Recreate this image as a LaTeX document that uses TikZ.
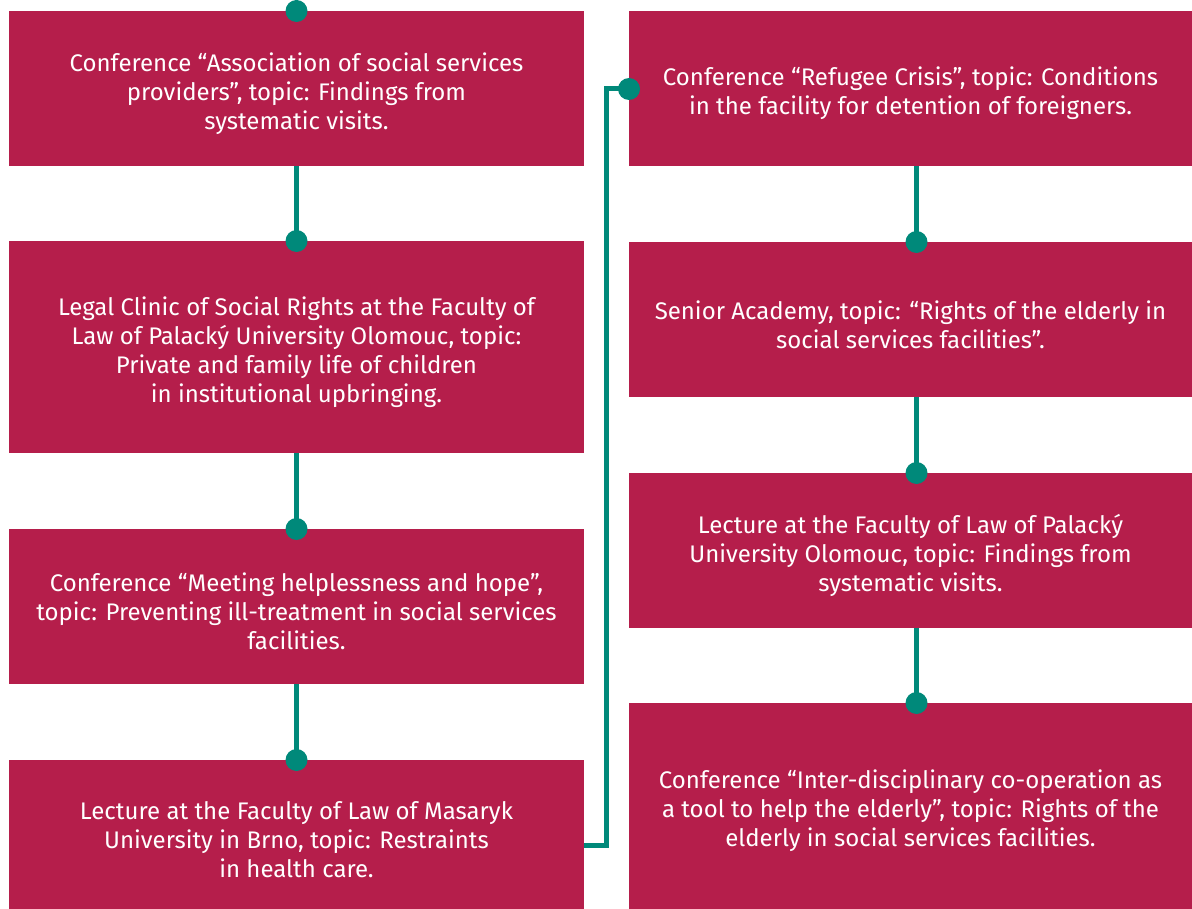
\documentclass[tikz,border=0pt]{standalone}
\usepackage{fontspec}
\setmainfont{Fira Sans}
\usetikzlibrary{calc}
\definecolor{crim}{HTML}{B51E4B}
\definecolor{teal}{HTML}{00897A}
\newcommand\topgap{\rule{0pt}{29pt}}
\begin{document}
\begin{tikzpicture}[x=1pt,y=-1pt,
  box/.style={fill=crim,text=white,inner sep=0pt,align=center,
    font=\fontsize{24}{29}\selectfont},
  lbox/.style={box,minimum width=575pt},
  rbox/.style={box,minimum width=563pt},
  conn/.style={draw=teal,line width=5pt},
  dot/.style={circle,fill=teal,inner sep=0pt,minimum size=22pt}]
\useasboundingbox (0,0) rectangle (1192,909);
% left column
\node[lbox,minimum height=155pt] (L1) at (296.5,88.5) {\topgap Conference “Association of social services\\providers”, topic: Findings from\\systematic visits.};
\node[lbox,minimum height=212pt] (L2) at (296.5,347) {\topgap Legal Clinic of Social Rights at the Faculty of\\Law of Palacký University Olomouc, topic:\\Private and family life of children\\in institutional upbringing.};
\node[lbox,minimum height=155pt] (L3) at (296.5,606.5) {\topgap Conference “Meeting helplessness and hope”,\\topic: Preventing ill-treatment in social services\\facilities.};
\node[lbox,minimum height=149pt] (L4) at (296.5,834.5) {\topgap Lecture at the Faculty of Law of Masaryk\\University in Brno, topic: Restraints\\in health care.};
% right column
\node[rbox,minimum height=155pt] (R1) at (910.5,88.5) {\topgap Conference “Refugee Crisis”, topic: Conditions\\in the facility for detention of foreigners.};
\node[rbox,minimum height=155pt] (R2) at (910.5,319.5) {\topgap Senior Academy, topic: “Rights of the elderly in\\social services facilities”.};
\node[rbox,minimum height=155pt] (R3) at (910.5,550.5) {\topgap Lecture at the Faculty of Law of Palacký\\University Olomouc, topic: Findings from\\systematic visits.};
\node[rbox,minimum height=206pt] (R4) at (910.5,806) {\topgap Conference “Inter-disciplinary co-operation as\\a tool to help the elderly”, topic: Rights of the\\elderly in social services facilities.};
% dots
\node[dot] (d1) at (296.5,11) {};
\node[dot] (d2) at (296.5,241) {};
\node[dot] (d3) at (296.5,529) {};
\node[dot] (d4) at (296.5,760) {};
\node[dot] (e1) at (629,89) {};
\node[dot] (e2) at (916.5,242) {};
\node[dot] (e3) at (916.5,473) {};
\node[dot] (e4) at (916.5,703) {};
% connectors
\draw[conn] (L1.south) -- (d2.center);
\draw[conn] (L2.south) -- (d3.center);
\draw[conn] (L3.south) -- (d4.center);
\coordinate (turn) at (606.5,89);
\draw[conn] ([yshift=-10.5pt]L4.east) -| (turn) -- (e1.center);
\draw[conn] (R1.south -| e2) -- (e2.center);
\draw[conn] (R2.south -| e3) -- (e3.center);
\draw[conn] (R3.south -| e4) -- (e4.center);
\end{tikzpicture}
\end{document}
